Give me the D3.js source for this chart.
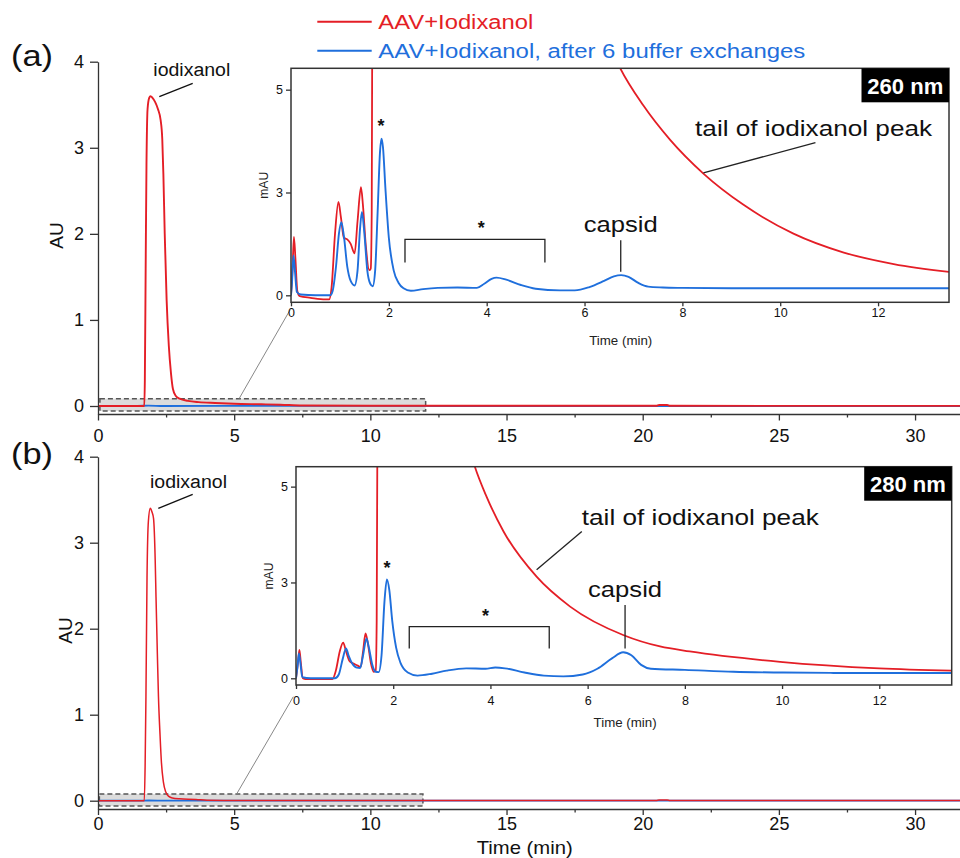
<!DOCTYPE html>
<html>
<head>
<meta charset="utf-8">
<script src="https://cdn.jsdelivr.net/npm/d3@7"></script>
<style>
  html, body { margin: 0; padding: 0; background: #fff; }
  svg { display: block; font-family: "Liberation Sans", Arial, Helvetica, sans-serif; }
</style>
</head>
<body>
<svg id="chart" width="960" height="858"></svg>
<script>
// ---------- series names ----------
const seriesNames = ["AAV+Iodixanol", "AAV+Iodixanol, after 6 buffer exchanges"];

// ---------- axis ticks ----------
const mainXTicks = [0, 5, 10, 15, 20, 25, 30];
const mainXMinorTicks = [2.5, 7.5, 12.5, 17.5, 22.5, 27.5];
const mainYTicks = [0, 1, 2, 3, 4];
const insetXTicks = [0, 2, 4, 6, 8, 10, 12];
const insetYTicks = [0, 2.5, 5];
const insetYTickLabels = ["0", "3", "5"];

// ---------- (a) 260 nm, full run, AU : [time (min), absorbance] ----------
const mainRedA = [
  [0, 0], [1.70, 0], [1.72, 0.3], [1.75, 1.6], [1.78, 2.8], [1.82, 3.45], [1.88, 3.58],
  [1.93, 3.6], [2.0, 3.58], [2.1, 3.53], [2.2, 3.45], [2.3, 3.32], [2.36, 3.1], [2.4, 2.7],
  [2.45, 2.0], [2.52, 1.23], [2.6, 0.7], [2.68, 0.38], [2.75, 0.2], [2.85, 0.12], [3.0, 0.085],
  [3.3, 0.06], [3.7, 0.045], [4.3, 0.035], [5.0, 0.026], [6.0, 0.02], [6.7, 0.015], [7.5, 0.006],
  [10, 0.003], [20.5, 0.002], [20.6, 0.012], [20.9, 0.012], [21.0, 0.002], [31.65, 0.001]
];
const mainBlueA = [
  [0, 0], [1.0, 0.002], [1.45, 0.002], [1.85, 0.004], [2.4, 0.0001], [6.75, 0.0005], [13.4, 0.0002], [31.65, 0.0002]
];

// ---------- (a) 260 nm, zoomed 0–13.5 min, mAU ----------
const insetRedA = [
  [0, 0], [0.03, 0.6], [0.06, 1.42], [0.09, 0.9], [0.13, 0.1], [0.18, -0.02], [0.4, -0.06],
  [0.7, -0.1], [0.78, -0.1], [0.83, 0.2], [0.9, 1.5], [0.97, 2.27], [1.02, 1.9], [1.08, 1.4],
  [1.15, 1.36], [1.22, 1.25], [1.3, 1.02], [1.36, 1.8], [1.43, 2.63], [1.47, 2.2], [1.53, 1.2],
  [1.6, 0.61], [1.63, 0.65], [1.65, 2.0], [1.67, 10], [1.7, 60], [2.5, 400], [3.0, 120],
  [4.0, 30], [5.0, 13], [5.5, 10], [6.0, 7.8], [6.3, 6.7], [6.73, 5.52], [7.2, 4.62],
  [7.75, 3.78], [8.43, 2.96], [9.25, 2.2], [10.27, 1.5], [11.3, 1.04], [12.32, 0.76], [13.45, 0.57]
];
const insetBlueA = [
  [0, 0], [0.02, 0.3], [0.05, 0.97], [0.08, 0.6], [0.12, 0.08], [0.2, 0.02], [0.5, 0], [0.8, 0],
  [0.85, 0.1], [0.92, 0.7], [0.98, 1.5], [1.03, 1.78], [1.08, 1.45], [1.15, 0.7], [1.22, 0.35],
  [1.3, 0.24], [1.36, 0.6], [1.41, 1.6], [1.45, 2.03], [1.5, 1.5], [1.56, 0.6], [1.62, 0.28],
  [1.67, 0.22], [1.72, 0.6], [1.77, 2.0], [1.82, 3.5], [1.85, 3.81], [1.88, 3.6], [1.93, 2.6],
  [2.0, 1.4], [2.1, 0.6], [2.2, 0.3], [2.3, 0.17], [2.45, 0.11], [2.7, 0.15], [3.0, 0.18],
  [3.4, 0.19], [3.8, 0.18], [3.95, 0.28], [4.1, 0.4], [4.2, 0.43], [4.4, 0.38], [4.7, 0.25],
  [5.0, 0.16], [5.5, 0.12], [5.8, 0.12], [6.1, 0.2], [6.4, 0.35], [6.6, 0.46], [6.75, 0.49],
  [6.9, 0.45], [7.1, 0.3], [7.3, 0.21], [7.6, 0.19], [8.0, 0.18], [9.0, 0.17], [10.0, 0.17],
  [11.0, 0.17], [12.0, 0.17], [13.45, 0.17]
];

// ---------- (b) 280 nm, full run, AU ----------
const mainRedB = [
  [0, 0], [1.70, 0], [1.73, 0.4], [1.76, 1.2], [1.8, 2.6], [1.85, 3.25], [1.92, 3.4],
  [1.98, 3.36], [2.04, 3.28], [2.1, 2.8], [2.13, 2.37], [2.18, 1.7], [2.22, 1.21], [2.28, 0.75],
  [2.33, 0.44], [2.4, 0.22], [2.49, 0.1], [2.6, 0.05], [2.73, 0.032], [3.0, 0.022], [3.6, 0.015],
  [4.0, 0.005], [5.0, 0.002], [20.5, 0.002], [20.6, 0.008], [20.9, 0.008], [21.0, 0.002], [31.65, 0.001]
];
const mainBlueB = [
  [0, 0], [1.0, 0.001], [1.45, 0.001], [1.87, 0.0026], [2.5, 0.0001], [6.73, 0.0007], [13.5, 0.0001], [31.65, 0.0001]
];

// ---------- (b) 280 nm, zoomed 0–13.5 min, mAU ----------
const insetRedB = [
  [0, 0], [0.04, 0.4], [0.07, 0.74], [0.1, 0.4], [0.14, 0], [0.2, -0.02], [0.75, -0.02],
  [0.82, 0.2], [0.9, 0.7], [0.97, 0.93], [1.03, 0.7], [1.1, 0.45], [1.17, 0.39], [1.27, 0.33],
  [1.33, 0.29], [1.38, 0.7], [1.43, 1.17], [1.48, 0.9], [1.54, 0.4], [1.6, 0.17], [1.64, 0.2],
  [1.66, 1.5], [1.68, 8], [1.72, 60], [2.5, 300], [3.0, 9.5], [3.3, 7.4], [3.5, 6.3],
  [3.68, 5.52], [3.92, 4.74], [4.27, 3.83], [4.95, 2.65], [5.64, 1.87], [6.73, 1.13],
  [7.49, 0.83], [8.1, 0.7], [9.96, 0.43], [12.0, 0.26], [13.49, 0.2]
];
const insetBlueB = [
  [0, 0], [0.03, 0.3], [0.06, 0.65], [0.09, 0.4], [0.13, 0.03], [0.3, 0], [0.8, 0],
  [0.88, 0.1], [0.96, 0.5], [1.03, 0.78], [1.08, 0.6], [1.15, 0.4], [1.25, 0.28], [1.32, 0.27],
  [1.38, 0.6], [1.45, 1.04], [1.5, 0.8], [1.57, 0.35], [1.64, 0.17], [1.7, 0.16], [1.76, 0.6],
  [1.82, 2.0], [1.87, 2.58], [1.92, 2.3], [1.98, 1.5], [2.06, 0.8], [2.15, 0.4], [2.3, 0.15],
  [2.5, 0.07], [2.8, 0.12], [3.1, 0.2], [3.5, 0.26], [3.9, 0.25], [4.1, 0.28], [4.3, 0.26],
  [4.7, 0.15], [5.1, 0.07], [5.5, 0.05], [5.9, 0.1], [6.2, 0.25], [6.5, 0.52], [6.73, 0.68],
  [6.9, 0.6], [7.1, 0.35], [7.3, 0.25], [8.0, 0.22], [9.0, 0.17], [10.0, 0.15], [11.0, 0.14],
  [12.0, 0.14], [13.49, 0.14]
];

// ---------- styling ----------
const RED = "#e41e26";
const BLUE = "#1f6fdc";
const AXIS = "#333";
const FONT = '"Liberation Sans", Arial, Helvetica, sans-serif';

const svg = d3.select("#chart");
svg.append("rect").attr("width", 960).attr("height", 858).attr("fill", "#fff");
const defs = svg.append("defs");

// Panel layouts
const panels = [
  {
    key: "a", letter: "(a)", letterY: 65.5, nm: "260 nm",
    mainRed: mainRedA, mainBlue: mainBlueA, insetRed: insetRedA, insetBlue: insetBlueA,
    mainYDomain: [-0.093, 4], mainYRange: [414, 61.7], xPad: 8.5, xTick: 6.5,
    au: { x: 56.7, y: 235.5 },
    iod: { x: 153.3, y: 76, leader: [[192.7, 83.3], [159.3, 96.7]] },
    box: { t: [0.07, 12.03], v: [-0.058, 0.085] },
    conn: { t: 5.18, to: [290, 310] },
    inset: {
      xDomain: [0, 13.45], xRange: [291, 949], yDomain: [-0.17, 5.52], yRange: [302.3, 68.3],
      xLabPad: 1.5, xTitleY: 345, xTitleT: 6.74, mAU: { x: 263.3, y: 185.3 },
      starPeak: [1.84, 4.22], bracket: { t: [2.33, 5.19], top: 1.36, bottom: 0.8 }, starBr: [3.89, 1.74],
      capsid: { t: 6.74, base: 1.54, lead: [1.34, 0.57] },
      tail: { t: 8.26, base: 3.87, lead: [[10.72, 3.71], [8.43, 2.98]] }
    }
  },
  {
    key: "b", letter: "(b)", letterY: 463.5, nm: "280 nm",
    mainRed: mainRedB, mainBlue: mainBlueB, insetRed: insetRedB, insetBlue: insetBlueB,
    mainYDomain: [-0.0965, 4], mainYRange: [809, 456.7], xPad: 2.6, xTick: 6,
    au: { x: 65, y: 630.5 },
    iod: { x: 150, y: 488.3, leader: [[192.7, 494.3], [158.3, 508.3]] },
    box: { t: [0.05, 11.93], v: [-0.062, 0.078] },
    conn: { t: 5.09, to: [293.3, 696.7] },
    inset: {
      xDomain: [0, 13.49], xRange: [296, 951.7], yDomain: [-0.175, 5.52], yRange: [685, 466.7],
      xLabPad: 7, xTitleY: 727.3, xTitleT: 6.77, mAU: { x: 268.3, y: 576 },
      starPeak: [1.87, 3.0], bracket: { t: [2.33, 5.21], top: 1.35, bottom: 0.78 }, starBr: [3.9, 1.74],
      capsid: { t: 6.77, base: 2.13, lead: [1.91, 0.78] },
      tail: { t: 5.88, base: 4.0, lead: [[5.88, 3.83], [4.95, 2.83]] }
    }
  }
];

const xMain = d3.scaleLinear().domain([0, 31.65]).range([98, 960]);

function styleAxis(g, size) {
  g.attr("font-family", FONT).attr("font-size", size);
  g.selectAll("path, line").attr("stroke", AXIS).attr("stroke-width", 1.3);
  g.selectAll("text").attr("fill", "#111");
}

function asterisk(g, x, y) {
  g.append("text").attr("x", x).attr("y", y + 10.5).attr("text-anchor", "middle")
    .attr("font-size", 18).attr("font-weight", "bold").attr("fill", "#111").text("*");
}

panels.forEach(p => {
  const g = svg.append("g").attr("class", "panel-" + p.key);
  const yMain = d3.scaleLinear().domain(p.mainYDomain).range(p.mainYRange);
  const axisY = p.mainYRange[0];

  // Panel letter
  g.append("text").attr("x", 11).attr("y", p.letterY).attr("font-size", 30)
    .attr("textLength", 42).attr("lengthAdjust", "spacingAndGlyphs")
    .attr("fill", "#111").text(p.letter);

  // Zoom region box on the full-run plot
  g.append("rect")
    .attr("x", xMain(p.box.t[0])).attr("y", yMain(p.box.v[1]))
    .attr("width", xMain(p.box.t[1]) - xMain(p.box.t[0]))
    .attr("height", yMain(p.box.v[0]) - yMain(p.box.v[1]))
    .attr("fill", "#dcdcdc").attr("stroke", "#555").attr("stroke-width", 1.5)
    .attr("stroke-dasharray", "5,3");

  // Connector to the inset
  g.append("line")
    .attr("x1", xMain(p.conn.t)).attr("y1", yMain(p.box.v[1]))
    .attr("x2", p.conn.to[0]).attr("y2", p.conn.to[1])
    .attr("stroke", "#888").attr("stroke-width", 1);

  // Full-run traces
  const clipId = "clip-main-" + p.key;
  defs.append("clipPath").attr("id", clipId).append("rect")
    .attr("x", 98).attr("y", p.mainYRange[1] - 20).attr("width", 862)
    .attr("height", axisY - p.mainYRange[1] + 20);
  const lineMain = d3.line().x(d => xMain(d[0])).y(d => yMain(d[1])).curve(d3.curveMonotoneX);
  const mg = g.append("g").attr("clip-path", `url(#${clipId})`);
  mg.append("path").datum(p.mainBlue).attr("d", lineMain).attr("fill", "none")
    .attr("stroke", BLUE).attr("stroke-width", 1.8);
  mg.append("path").datum(p.mainRed).attr("d", lineMain).attr("fill", "none")
    .attr("stroke", RED).attr("stroke-width", p.key === "a" ? 1.9 : 1.5);

  // Full-run axes
  const gy = g.append("g").attr("transform", "translate(98,0)")
    .call(d3.axisLeft(yMain).tickValues(mainYTicks).tickFormat(d3.format("d"))
      .tickSize(8).tickPadding(6).tickSizeOuter(0));
  styleAxis(gy, 18);
  const gx = g.append("g").attr("transform", `translate(0,${axisY})`)
    .call(d3.axisBottom(xMain).tickValues(mainXTicks).tickFormat(d3.format("d"))
      .tickSize(p.xTick).tickPadding(p.xPad).tickSizeOuter(0));
  styleAxis(gx, 18);
  const gxm = g.append("g").attr("transform", `translate(0,${axisY})`)
    .call(d3.axisBottom(xMain).tickValues(mainXMinorTicks).tickSize(3.5).tickFormat("").tickSizeOuter(0));
  styleAxis(gxm, 18);
  gxm.select(".domain").remove();

  // Y title
  g.append("text").attr("transform", `translate(${p.au.x},${p.au.y}) rotate(-90)`)
    .attr("text-anchor", "middle").attr("dy", "0.35em").attr("font-size", 19)
    .attr("fill", "#111").text("AU");

  // iodixanol label and leader
  g.append("text").attr("x", p.iod.x).attr("y", p.iod.y).attr("font-size", 18)
    .attr("textLength", 77).attr("lengthAdjust", "spacingAndGlyphs")
    .attr("fill", "#111").text("iodixanol");
  g.append("line").attr("x1", p.iod.leader[0][0]).attr("y1", p.iod.leader[0][1])
    .attr("x2", p.iod.leader[1][0]).attr("y2", p.iod.leader[1][1])
    .attr("stroke", "#111").attr("stroke-width", 1.3);

  // ---------- inset ----------
  const s = p.inset;
  const xi = d3.scaleLinear().domain(s.xDomain).range(s.xRange);
  const yi = d3.scaleLinear().domain(s.yDomain).range(s.yRange);
  const ig = g.append("g").attr("class", "inset");
  const fx = s.xRange[0], fy = s.yRange[1];
  const fw = s.xRange[1] - s.xRange[0], fh = s.yRange[0] - s.yRange[1];
  ig.append("rect").attr("x", fx).attr("y", fy).attr("width", fw).attr("height", fh).attr("fill", "#fff");

  const iclip = "clip-inset-" + p.key;
  defs.append("clipPath").attr("id", iclip).append("rect")
    .attr("x", fx).attr("y", fy).attr("width", fw).attr("height", fh);
  const lineInset = d3.line().x(d => xi(d[0])).y(d => yi(d[1])).curve(d3.curveMonotoneX);
  const lg = ig.append("g").attr("clip-path", `url(#${iclip})`);
  lg.append("path").datum(p.insetRed).attr("d", lineInset).attr("fill", "none")
    .attr("stroke", RED).attr("stroke-width", 1.8);
  lg.append("path").datum(p.insetBlue).attr("d", lineInset).attr("fill", "none")
    .attr("stroke", BLUE).attr("stroke-width", 1.9);

  ig.append("rect").attr("x", fx).attr("y", fy).attr("width", fw).attr("height", fh)
    .attr("fill", "none").attr("stroke", AXIS).attr("stroke-width", 1.5);

  const ix = ig.append("g").attr("transform", `translate(0,${s.yRange[0]})`)
    .call(d3.axisBottom(xi).tickValues(insetXTicks).tickSize(4).tickPadding(s.xLabPad).tickSizeOuter(0));
  styleAxis(ix, 12.5);
  ix.select(".domain").remove();
  const iy = ig.append("g").attr("transform", `translate(${fx},0)`)
    .call(d3.axisLeft(yi).tickValues(insetYTicks).tickSize(5).tickPadding(3).tickSizeOuter(0)
      .tickFormat((d, i) => insetYTickLabels[i]));
  styleAxis(iy, 12.5);
  iy.select(".domain").remove();

  ig.append("text").attr("x", xi(s.xTitleT))
    .attr("y", s.xTitleY).attr("text-anchor", "middle").attr("font-size", 13)
    .attr("textLength", 63).attr("lengthAdjust", "spacingAndGlyphs")
    .attr("fill", "#222").text("Time (min)");
  ig.append("text").attr("transform", `translate(${s.mAU.x},${s.mAU.y}) rotate(-90)`)
    .attr("text-anchor", "middle").attr("dy", "0.35em").attr("font-size", 12.5)
    .attr("textLength", 27).attr("lengthAdjust", "spacingAndGlyphs")
    .attr("fill", "#222").text("mAU");

  // Wavelength tag
  const tagW = 87.5, tagH = 34;
  ig.append("rect").attr("x", fx + fw - tagW).attr("y", fy).attr("width", tagW).attr("height", tagH).attr("fill", "#000");
  ig.append("text").attr("x", fx + fw - tagW / 2).attr("y", fy + 25.3).attr("text-anchor", "middle")
    .attr("font-size", 21.5).attr("font-weight", "bold").attr("fill", "#fff")
    .attr("textLength", 76).attr("lengthAdjust", "spacingAndGlyphs").text(p.nm);

  // Annotations
  asterisk(ig, xi(s.starPeak[0]), yi(s.starPeak[1]));
  const br = s.bracket;
  ig.append("path")
    .attr("d", `M${xi(br.t[0])},${yi(br.bottom)}V${yi(br.top)}H${xi(br.t[1])}V${yi(br.bottom)}`)
    .attr("fill", "none").attr("stroke", "#222").attr("stroke-width", 1.3);
  asterisk(ig, xi(s.starBr[0]), yi(s.starBr[1]));

  ig.append("text").attr("x", xi(s.capsid.t)).attr("y", yi(s.capsid.base)).attr("text-anchor", "middle")
    .attr("font-size", 22.5).attr("textLength", 74).attr("lengthAdjust", "spacingAndGlyphs")
    .attr("fill", "#111").text("capsid");
  ig.append("line").attr("x1", xi(s.capsid.t)).attr("x2", xi(s.capsid.t))
    .attr("y1", yi(s.capsid.lead[0])).attr("y2", yi(s.capsid.lead[1]))
    .attr("stroke", "#222").attr("stroke-width", 1.3);

  ig.append("text").attr("x", xi(s.tail.t)).attr("y", yi(s.tail.base))
    .attr("font-size", 22.5).attr("textLength", 237).attr("lengthAdjust", "spacingAndGlyphs")
    .attr("fill", "#111").text("tail of iodixanol peak");
  ig.append("line").attr("x1", xi(s.tail.lead[0][0])).attr("y1", yi(s.tail.lead[0][1]))
    .attr("x2", xi(s.tail.lead[1][0])).attr("y2", yi(s.tail.lead[1][1]))
    .attr("stroke", "#222").attr("stroke-width", 1.3);
});

// Bottom axis title
svg.append("text").attr("x", 476.7).attr("y", 853.5).attr("font-size", 18.5)
  .attr("textLength", 96).attr("lengthAdjust", "spacingAndGlyphs")
  .attr("fill", "#111").text("Time (min)");

// Legend
const legend = svg.append("g").attr("class", "legend");
const legendRows = [
  { name: seriesNames[0], color: RED, y: 21.7, len: 155 },
  { name: seriesNames[1], color: BLUE, y: 50.7, len: 427 }
];
legendRows.forEach(r => {
  legend.append("line").attr("x1", 317.3).attr("x2", 371.7).attr("y1", r.y).attr("y2", r.y)
    .attr("stroke", r.color).attr("stroke-width", 2);
  legend.append("text").attr("x", 378.3).attr("y", r.y + 6.9).attr("font-size", 20)
    .attr("textLength", r.len).attr("lengthAdjust", "spacingAndGlyphs")
    .attr("fill", r.color).text(r.name);
});
</script>
</body>
</html>
